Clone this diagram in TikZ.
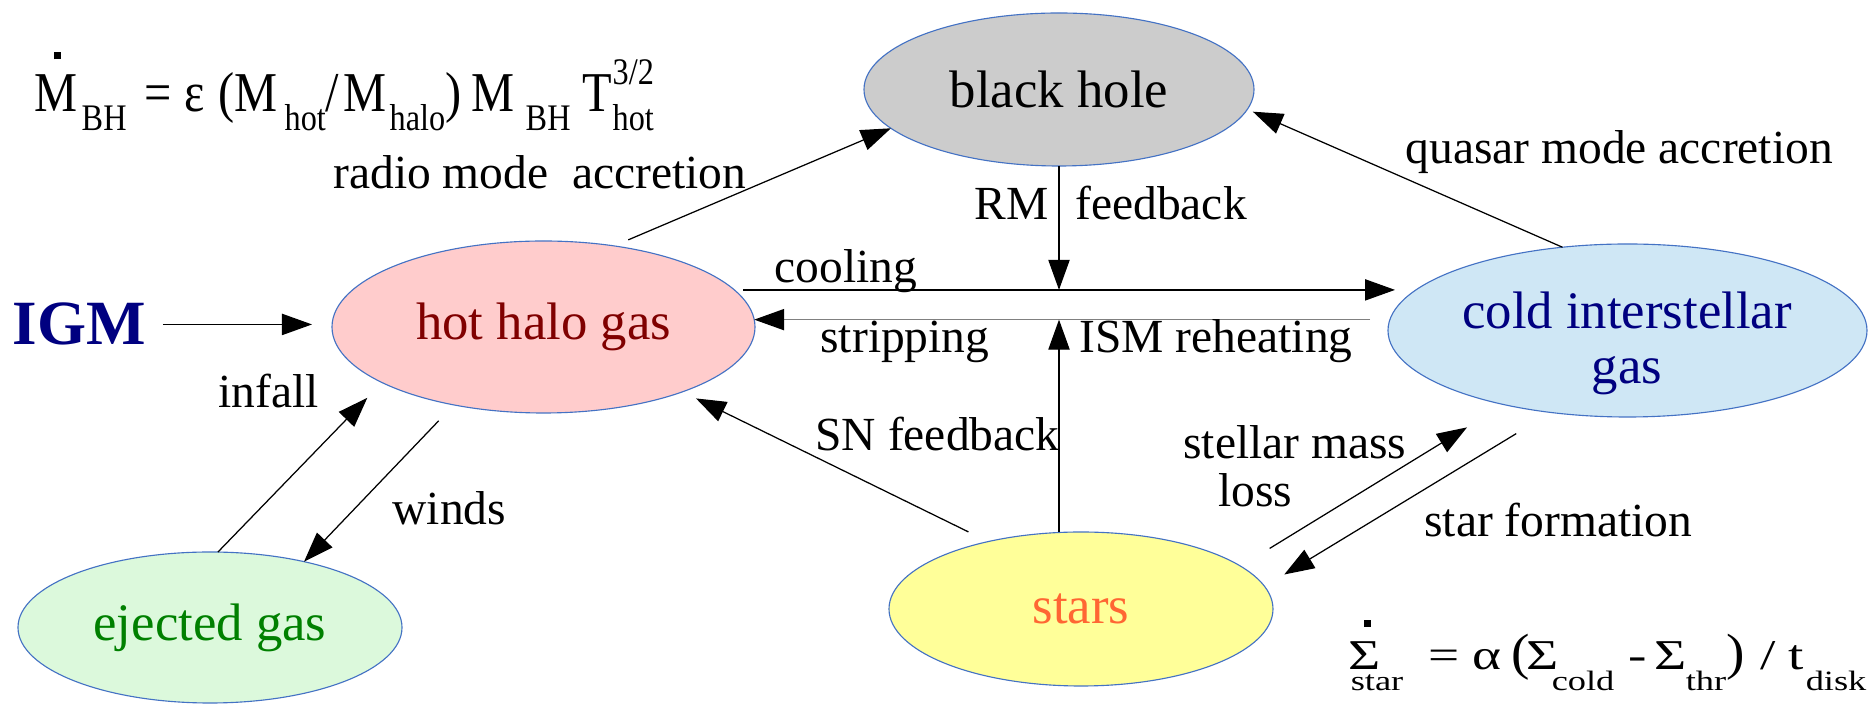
\documentclass[tikz,border=0pt]{standalone}
\usepackage{fontspec}
\setmainfont{Liberation Serif}
\usepackage{graphicx}
\usetikzlibrary{arrows.meta,shapes.geometric}

\definecolor{rim}{RGB}{68,114,196}
\definecolor{bhfill}{RGB}{204,204,204}
\definecolor{hotfill}{RGB}{255,204,204}
\definecolor{hottext}{RGB}{128,0,0}
\definecolor{coldfill}{RGB}{207,231,245}
\definecolor{navy}{RGB}{0,0,128}
\definecolor{starfill}{RGB}{255,255,153}
\definecolor{startext}{RGB}{255,102,51}
\definecolor{ejfill}{RGB}{220,249,220}
\definecolor{ejtext}{RGB}{0,128,0}

% one picture pixel
\newlength\pxu \setlength\pxu{0.4pt}
% place #2 at horizontal offset #1 (pixels) without advancing
\newcommand\At[2]{\makebox[0pt][l]{\hspace*{#1\pxu}#2}}
\newcommand\Narrow[1]{\scalebox{0.86}[1]{#1}}
\newcommand\Wide[1]{\scalebox{1.3}[1]{#1}}
\newcommand\Paren[1]{\scalebox{1.3}[1.2]{#1}}
\newcommand\fsmall{\fontsize{11.2pt}{13pt}\selectfont}
\newcommand\DotSq{\rule{2.8pt}{2.8pt}}
% subscripts and superscripts of the accretion-rate formula
\newcommand\LoA[1]{\raisebox{-7.6pt}{\fontsize{15pt}{17pt}\selectfont\Narrow{#1}}}
\newcommand\HiA[1]{\raisebox{11pt}{\fontsize{15pt}{17pt}\selectfont\Narrow{#1}}}
% subscripts of the star-formation formula
\newcommand\LoB[1]{\raisebox{-8.4pt}{\fsmall\Wide{#1}}}

\tikzset{
  blob/.style={ellipse, draw=rim, line width=0.45pt, inner sep=0pt, outer sep=0pt,
    font=\rmfamily\fontsize{21.1pt}{22pt}\selectfont},
  lbl/.style={font=\rmfamily\fontsize{19pt}{20pt}\selectfont, inner sep=0pt, anchor=base west},
  arr/.style={line width=0.5pt, -{Triangle[length=12pt,width=8.5pt]}},
  arrgray/.style={line width=0.5pt, draw=gray,
    -{Triangle[length=12pt,width=8.5pt,color=black,fill=black]}},
  formula/.style={inner sep=0pt, anchor=base west},
}

\begin{document}
\begin{tikzpicture}[x=0.4pt, y=-0.4pt]
\fill[white] (0,0) rectangle (1875,704);
\path[use as bounding box] (0,0) rectangle (1875,704);

% reservoirs
\node[blob, fill=bhfill, minimum width=156pt, minimum height=61.2pt] (bh) at (1059,89.5) {black hole};
\node[blob, fill=hotfill, text=hottext, minimum width=169.2pt, minimum height=68.8pt] (hot) at (543.5,327) {hot halo gas};
\node[blob, fill=coldfill, minimum width=191.6pt, minimum height=69.2pt] (cold) at (1627.5,330.5) {};
\node[font=\rmfamily\fontsize{21.1pt}{22pt}\selectfont, text=navy, align=center, inner sep=0pt] (coldtext) at (1627,343) {cold interstellar\\gas};
\node[blob, fill=starfill, text=startext, minimum width=153.6pt, minimum height=61.6pt] (stars) at (1081,609) {stars};
\node[blob, fill=ejfill, text=ejtext, minimum width=153.6pt, minimum height=60.4pt] (ej) at (210,627.5) {ejected gas};
\node[inner sep=0pt, anchor=base west, font=\rmfamily\fontsize{25.2pt}{27pt}\selectfont\bfseries, text=navy] (igm) at (12,345) {IGM};

% flows
\draw[arr, shorten <=6.8pt, shorten >=8pt] (igm.east) -- (igm.east -| hot.west);
\draw[arr, shorten <=6.2pt] (hot.49.1) -- (bh.193.6);
\draw[arr, shorten >=2.4pt] (cold.128.4) -- (bh.354.9);
\draw[arr, shorten <=3.6pt, shorten >=-2.8pt] (hot.11) -- (hot.11 -| cold.west);
\draw[arrgray, shorten <=7.2pt] (hot.2.5 -| cold.west) -- (hot.2.5);
\draw[arr] (bh.south) -- (bh.south |- hot.11);
\draw[arr] (stars.north -| bh.south) -- (bh.south |- hot.2.5);
\draw[arr, shorten <=8.8pt, shorten >=6pt] (stars.144.5) -- (hot.335.5);
\draw[arr, shorten >=8.5pt] (ej.84.7) -- (hot.199.8);
\draw[arr, shorten <=8.8pt] (hot.221.6) -- (ej.35.7);
\draw[arr, shorten <=13.6pt, shorten >=17.4pt] (stars.15.8) -- (cold.211.5);
\draw[arr, shorten <=16.3pt, shorten >=9.2pt] (cold.227.1) -- (stars.7.6);

% flow labels
\node[lbl] (lradio) at (333,189) {radio mode\ \ accretion};
\node[lbl] (lquasar) at (1405,164) {quasar mode accretion};
\node[lbl] (lrm) at (974,220) {RM\hspace*{27\pxu}feedback};
\node[lbl] (lcool) at (774,283) {cooling};
\node[lbl] (lstrip) at (820,353) {stripping};
\node[lbl] (lism) at (1079,353) {ISM reheating};
\node[lbl] (linfall) at (218,408) {infall};
\node[lbl] (lwinds) at (392,525) {winds};
\node[lbl] (lsn) at (815,451) {SN feedback};
\node[lbl] (lsml) at (1183,459) {stellar mass};
\node[lbl] (lloss) at (1218,507) {loss};
\node[lbl] (lsf) at (1424,537) {star formation};

% black hole accretion rate
\node[formula, font=\rmfamily\fontsize{22.5pt}{25pt}\selectfont] (bhrate) at (33,112) {%
\At{0}{\Narrow{M}}\At{19}{\raisebox{21pt}{\DotSq}}\At{47}{\LoA{BH}}%
\At{110}{\Narrow{=}}\At{150}{\Narrow{ε}}\At{184}{\Narrow{(}}\At{200}{\Narrow{M}}\At{250}{\LoA{hot}}%
\At{291}{\Narrow{/}}\At{309}{\Narrow{M}}\At{355}{\LoA{halo}}\At{411}{\Narrow{)}}%
\At{437}{\Narrow{M}}\At{491}{\LoA{BH}}\At{548}{\Narrow{T}}\At{578}{\HiA{3/2}}\At{578}{\LoA{hot}}};

% star formation rate
\node[formula, font=\rmfamily\fontsize{17pt}{19pt}\selectfont] (sfrate) at (1347,670) {%
\At{0}{\Wide{Σ}}\At{15}{\raisebox{17.2pt}{\DotSq}}\At{2}{\LoB{star}}%
\At{80}{\Wide{=}}\At{124}{\Wide{α}}\At{163}{\Paren{(}}%
\At{178}{\Wide{Σ}}\At{203}{\LoB{cold}}\At{280}{\Wide{-}}%
\At{306}{\Wide{Σ}}\At{337}{\LoB{thr}}\At{378}{\Paren{)}}%
\At{412}{\Wide{/}}\At{440}{\Wide{t}}\At{457}{\LoB{disk}}};
\end{tikzpicture}
\end{document}
